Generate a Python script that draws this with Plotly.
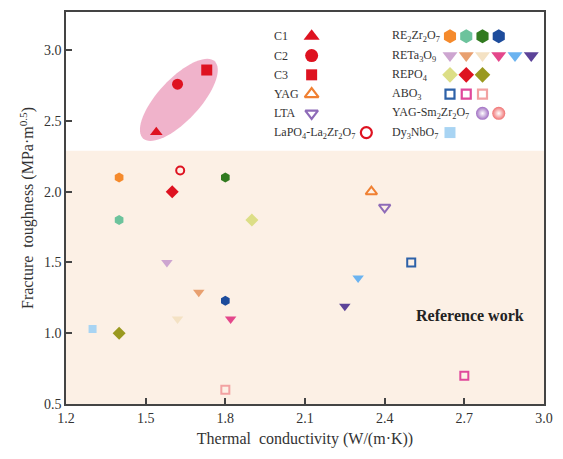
import numpy as np
import plotly.graph_objects as go

# ---------------- data ----------------
c_labels = ["C1", "C2", "C3"]
c_x = [1.54, 1.62, 1.73]
c_y = [2.42, 2.76, 2.86]
c_symbols = ["triangle-up", "circle", "square"]

yag_x, yag_y = [2.35], [2.00]
lta_x, lta_y = [2.40], [1.89]
lapo4_x, lapo4_y = [1.63], [2.15]
dy_x, dy_y = [1.30], [1.03]

re2zr2o7_x = [1.40, 1.40, 1.80, 1.80]
re2zr2o7_y = [2.10, 1.80, 2.10, 1.23]
re2zr2o7_colors = ["#F58A2C", "#6CC39C", "#317A1F", "#1D4C9C"]

reta3o9_x = [1.58, 1.70, 1.62, 1.82, 2.30, 2.25]
reta3o9_y = [1.50, 1.29, 1.10, 1.10, 1.39, 1.19]
reta3o9_colors = ["#CDA5D0", "#E8A070", "#F4E2C4", "#E4478B", "#6BB3F0", "#5C4399"]

repo4_x = [1.90, 1.60, 1.40]
repo4_y = [1.80, 2.00, 1.00]
repo4_colors = ["#DCDE86", "#DE1220", "#9A991F"]

abo3_x = [2.50, 2.70, 1.80]
abo3_y = [1.50, 0.70, 0.60]
abo3_colors = ["#2D61A8", "#E0489B", "#F2A2A2"]

yagsm_colors = ["#A06EC2", "#F07272"]
dy_color = "#A8D4F3"
red = "#DE1220"

x_ticks = [1.2, 1.5, 1.8, 2.1, 2.4, 2.7, 3.0]
y_ticks = [0.5, 1.0, 1.5, 2.0, 2.5, 3.0]

FONT = "Liberation Serif"
TXT = "#333333"

fig = go.Figure()

# shaded "reference work" region
fig.add_shape(type="rect", x0=1.2, x1=3.0, y0=0.5, y1=2.29, xref="x", yref="y",
              fillcolor="#FCF0E5", line_width=0, layer="below")

# ellipse around C1-C3
cx, cy = 1.625, 2.649
a_px, b_px, ang = 53, 21, np.deg2rad(47)
t = np.linspace(0, 2 * np.pi, 73)
px = a_px * np.cos(t) * np.cos(ang) - b_px * np.sin(t) * np.sin(ang)
py = a_px * np.cos(t) * np.sin(ang) + b_px * np.sin(t) * np.cos(ang)
ex = cx + px / 268.0
ey = cy + py / 142.4
path = "M " + " L ".join(f"{x:.4f},{y:.4f}" for x, y in zip(ex, ey)) + " Z"
fig.add_shape(type="path", path=path, xref="x", yref="y",
              fillcolor="#F0B3CB", line_width=0, layer="below")

def pts(x, y, symbol, color, size=10, open_=False, lw=2, gradient=False):
    marker = dict(symbol=symbol + ("-open" if open_ else ""), size=size, color=color,
                  line=dict(width=lw if open_ else 0, color=color))
    if gradient:
        marker["gradient"] = dict(type="radial", color="white")
        marker["line"] = dict(width=0)
    fig.add_trace(go.Scatter(x=x, y=y, mode="markers", marker=marker,
                             showlegend=False, hoverinfo="skip", cliponaxis=False))

# data points
for i in range(3):
    pts([c_x[i]], [c_y[i]], c_symbols[i], red, size=11)
pts(re2zr2o7_x, re2zr2o7_y, "hexagon", re2zr2o7_colors, size=10)
pts(reta3o9_x, reta3o9_y, "triangle-down", reta3o9_colors, size=10)
pts(repo4_x, repo4_y, "diamond", repo4_colors, size=10)
for i in range(3):
    pts([abo3_x[i]], [abo3_y[i]], "square", abo3_colors[i], size=8, open_=True, lw=2)
pts(yag_x, yag_y, "triangle-up", "#F08032", size=10, open_=True, lw=2)
pts(lta_x, lta_y, "triangle-down", "#8E6BB8", size=10, open_=True, lw=2)
pts(lapo4_x, lapo4_y, "circle", red, size=8, open_=True, lw=2)
pts(dy_x, dy_y, "square", dy_color, size=8)

# ---------------- custom legend ----------------
row_y0, row_dy = 3.098, 0.136
left_lab_x, left_mk_x = 1.976, 2.125
right_lab_x, right_mk_x, mk_dx = 2.419, 2.646, 0.0612

left_entries = [
    ("C1", [("triangle-up", red, False)], left_mk_x),
    ("C2", [("circle", red, False)], left_mk_x),
    ("C3", [("square", red, False)], left_mk_x),
    ("YAG", [("triangle-up", "#F08032", True)], left_mk_x),
    ("LTA", [("triangle-down", "#8E6BB8", True)], left_mk_x),
    ("LaPO<sub>4</sub>-La<sub>2</sub>Zr<sub>2</sub>O<sub>7</sub>", [("circle", red, True)], 2.331),
]
right_entries = [
    ("RE<sub>2</sub>Zr<sub>2</sub>O<sub>7</sub>", [("hexagon", c, False) for c in re2zr2o7_colors], 0),
    ("RETa<sub>3</sub>O<sub>9</sub>", [("triangle-down", c, False) for c in reta3o9_colors], 0),
    ("REPO<sub>4</sub>", [("diamond", c, False) for c in repo4_colors], 0),
    ("ABO<sub>3</sub>", [("square", c, True) for c in abo3_colors], 0),
    ("YAG-Sm<sub>2</sub>Zr<sub>2</sub>O<sub>7</sub>", [("sphere", c, False) for c in yagsm_colors], 2),
    ("Dy<sub>3</sub>NbO<sub>7</sub>", [("square", dy_color, False)], 0),
]

size_map = {"triangle-up": 14, "triangle-down": 13, "circle": 13, "square": 11,
            "hexagon": 14, "diamond": 12, "sphere": 13}

for i, (lab, mks, mx) in enumerate(left_entries):
    yy = row_y0 - i * row_dy
    fig.add_annotation(x=left_lab_x, y=yy, text=lab, showarrow=False, xanchor="left",
                       yanchor="middle", font=dict(family=FONT, size=12, color=TXT))
    for sym, col, op in mks:
        sz = size_map[sym] - (2 if op else 0)
        pts([mx], [yy], sym, col, size=sz, open_=op, lw=2.2)

for i, (lab, mks, off) in enumerate(right_entries):
    yy = row_y0 - i * row_dy
    fig.add_annotation(x=right_lab_x, y=yy, text=lab, showarrow=False, xanchor="left",
                       yanchor="middle", font=dict(family=FONT, size=12, color=TXT))
    for j, (sym, col, op) in enumerate(mks):
        xx = right_mk_x + (j + off) * mk_dx
        if sym == "sphere":
            pts([xx], [yy], "circle", col, size=13, gradient=True)
        else:
            sz = size_map[sym] - (2 if op else 0)
            pts([xx], [yy], sym, col, size=sz, open_=op, lw=2.2)

fig.add_annotation(x=2.72, y=1.125, text="<b>Reference work</b>", showarrow=False,
                   font=dict(family=FONT, size=16, color="#222222"))

axis_common = dict(showgrid=False, zeroline=False, showline=True, linecolor="#444444",
                   linewidth=1.5, mirror=True, ticks="inside", ticklen=6, tickwidth=1.5,
                   tickcolor="#444444", tickfont=dict(family=FONT, size=14, color=TXT))

fig.update_layout(
    width=563, height=459,
    margin=dict(l=66, r=15, t=10, b=55),
    paper_bgcolor="white", plot_bgcolor="white",
    showlegend=False,
    xaxis=dict(range=[1.2, 3.0], tickvals=x_ticks, ticktext=[f"{v:.1f}" for v in x_ticks],
               title=dict(text="Thermal  conductivity (W/(m·K))",
                          font=dict(family=FONT, size=16, color=TXT), standoff=8),
               **axis_common),
    yaxis=dict(range=[0.5, 3.27], tickvals=y_ticks, ticktext=[f"{v:.1f}" for v in y_ticks],
               title=dict(text="Fracture  toughness (MPa·m<sup>0.5</sup>)",
                          font=dict(family=FONT, size=16, color=TXT), standoff=6),
               **axis_common),
)

fig.write_html("out.html")
